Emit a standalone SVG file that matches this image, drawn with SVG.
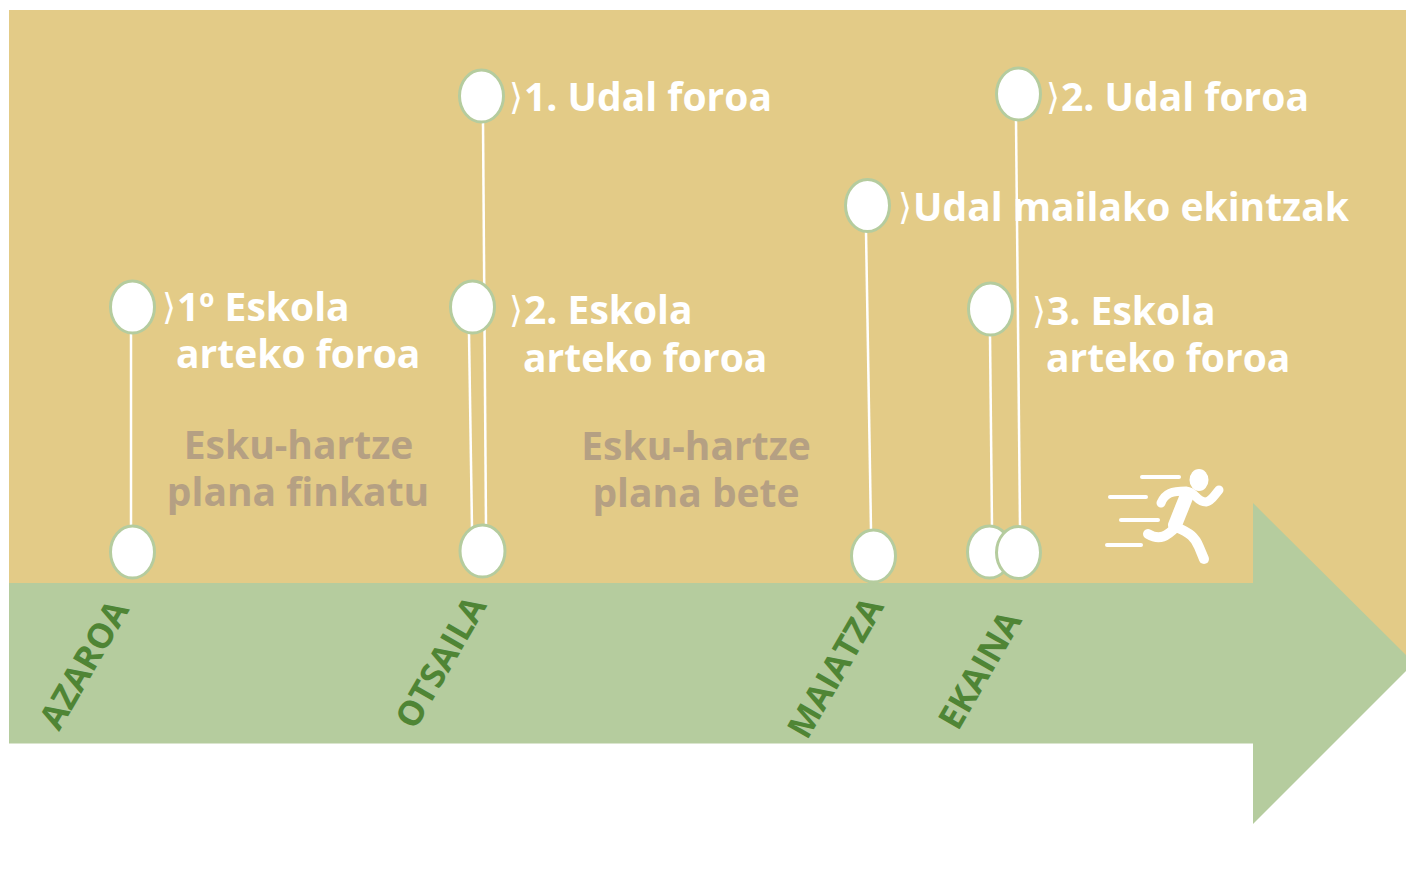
<svg xmlns="http://www.w3.org/2000/svg" width="1406" height="877" viewBox="0 0 1406 877">
<style>
.lbl{font-family:"Open Sans",sans-serif;font-weight:700;font-size:39px;fill:#fff}
.chev{font-family:"DejaVu Sans",sans-serif;font-weight:400;font-size:36px;fill:#fff}
.mut{font-family:"Open Sans",sans-serif;font-weight:700;font-size:39px;fill:#b5a083;text-anchor:middle}
.mon{font-family:"Open Sans",sans-serif;font-weight:700;font-size:34.500px;fill:#4f8535}
.dot{fill:#fff;stroke:#b5cc9e;stroke-width:3}
.con{stroke:#fff;stroke-width:2.5;fill:none}
.run{stroke:#fff;fill:none;stroke-linecap:round;stroke-linejoin:round}
</style>
<rect width="1406" height="877" fill="#fff"/>
<rect x="9" y="10" width="1397" height="660" fill="#e3cb87"/>
<polygon id="arrow" points="9,583 1253,583 1253,503 1414,663 1253,824 1253,743.500 9,743.500" fill="#b5cc9e"/>
<g id="connectors">
<line class="con" x1="131" y1="333" x2="131" y2="526"/>
<line class="con" x1="483" y1="122" x2="486" y2="526"/>
<line class="con" x1="469" y1="333" x2="472" y2="528"/>
<line class="con" x1="866" y1="231" x2="871" y2="530"/>
<line class="con" x1="1016" y1="120" x2="1020" y2="527"/>
<line class="con" x1="990" y1="335" x2="992" y2="527"/>
</g>
<g id="node-azaroa-start"><ellipse class="dot" cx="132.500" cy="552" rx="22" ry="26"/></g>
<g id="node-eskola-1">
<ellipse class="dot" cx="132.500" cy="307" rx="22" ry="26"/>
<text class="chev" x="162" y="319">⟩</text>
<text class="lbl" x="177" y="320.500">1º Eskola</text>
<text class="lbl" x="176" y="368">arteko foroa</text>
</g>
<g id="node-otsaila-start"><ellipse class="dot" cx="482.500" cy="551" rx="22.500" ry="26"/></g>
<g id="node-udal-1">
<ellipse class="dot" cx="481.500" cy="96" rx="22" ry="26"/>
<text class="chev" x="509" y="109">⟩</text>
<text class="lbl" x="524" y="110.500">1. Udal foroa</text>
</g>
<g id="node-eskola-2">
<ellipse class="dot" cx="472.500" cy="307" rx="22" ry="26"/>
<text class="chev" x="509" y="322">⟩</text>
<text class="lbl" x="524" y="323.500">2. Eskola</text>
<text class="lbl" x="523" y="371.500">arteko foroa</text>
</g>
<g id="node-maiatza-start"><ellipse class="dot" cx="873.500" cy="556" rx="22" ry="26"/></g>
<g id="node-udal-mailako">
<ellipse class="dot" cx="867.500" cy="205.500" rx="22" ry="26"/>
<text class="chev" x="898" y="219">⟩</text>
<text class="lbl" x="913" y="220.500">Udal mailako ekintzak</text>
</g>
<g id="node-ekaina-start-1"><ellipse class="dot" cx="989.500" cy="552" rx="22" ry="26"/></g>
<g id="node-ekaina-start-2"><ellipse class="dot" cx="1018.500" cy="552.500" rx="22" ry="26"/></g>
<g id="node-udal-2">
<ellipse class="dot" cx="1018.500" cy="94" rx="22" ry="26"/>
<text class="chev" x="1046" y="109">⟩</text>
<text class="lbl" x="1061" y="110.500">2. Udal foroa</text>
</g>
<g id="node-eskola-3">
<ellipse class="dot" cx="990.500" cy="309" rx="22" ry="26"/>
<text class="chev" x="1032" y="323">⟩</text>
<text class="lbl" x="1047" y="324.500">3. Eskola</text>
<text class="lbl" x="1046" y="372">arteko foroa</text>
</g>
<g id="phase-1"><text class="mut" x="298.500" y="458.500">Esku-hartze</text><text class="mut" x="298" y="505.500">plana finkatu</text></g>
<g id="phase-2"><text class="mut" x="696" y="459.500">Esku-hartze</text><text class="mut" x="696" y="506.500">plana bete</text></g>
<g id="months">
<text class="mon" transform="translate(59,732) rotate(-60)">AZAROA</text>
<text class="mon" transform="translate(415,731) rotate(-60)">OTSAILA</text>
<text class="mon" transform="translate(807,741) rotate(-60)">MAIATZA</text>
<text class="mon" transform="translate(958,732) rotate(-60)">EKAINA</text>
</g>
<g id="runner">
<ellipse cx="1199" cy="480" rx="9.500" ry="11" fill="#fff"/>
<g class="run" stroke-width="4">
<line x1="1142" y1="477" x2="1179" y2="477"/>
<line x1="1110" y1="497" x2="1146" y2="497"/>
<line x1="1121" y1="520" x2="1158" y2="520"/>
<line x1="1107" y1="545" x2="1141" y2="545"/>
</g>
<path class="run" stroke-width="9" d="M1161,503C1165,493 1172,491 1186,491C1196,492 1196,502 1206,502C1212,501 1215,494 1219,490"/>
<path class="run" stroke-width="14" d="M1187,495L1175,525"/>
<path class="run" stroke-width="10" d="M1148,534C1160,541 1167,536 1176,527C1190,533 1195,537 1199,547L1204,559"/>
</g>
</svg>
